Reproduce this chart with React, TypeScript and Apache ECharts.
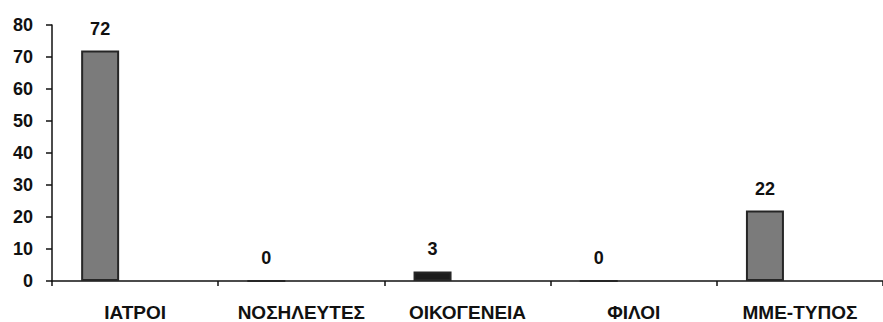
import React, { useEffect, useRef } from "react";
import * as echarts from "echarts";

const categories = ["ΙΑΤΡΟΙ", "ΝΟΣΗΛΕΥΤΕΣ", "ΟΙΚΟΓΕΝΕΙΑ", "ΦΙΛΟΙ", "ΜΜΕ-ΤΥΠΟΣ"];
const values = [72, 0, 3, 0, 22];
const yTicks = { min: 0, max: 80, interval: 10 };

const FONT = "'Liberation Sans', Arial, sans-serif";
const GRAY = "#7b7b7b";
const DARK = "#1c1c1c";

export default function App() {
  const ref = useRef<HTMLDivElement>(null);

  useEffect(() => {
    if (!ref.current) return;
    const chart = echarts.init(ref.current, null, { renderer: "svg" });
    chart.setOption({
      animation: false,
      backgroundColor: "#ffffff",
      grid: { left: 52, top: 25, width: 834, bottom: 39, containLabel: false },
      xAxis: {
        type: "category",
        data: categories,
        axisLine: { lineStyle: { color: "#111", width: 1.5 } },
        axisTick: {
          show: true,
          interval: 0,
          inside: false,
          length: 5,
          lineStyle: { color: "#111", width: 1.5 },
        },
        axisLabel: {
          interval: 0,
          hideOverlap: false,
          color: "#111",
          fontFamily: FONT,
          fontWeight: "bold",
          fontSize: 19,
          margin: 22,
        },
      },
      yAxis: {
        type: "value",
        min: yTicks.min,
        max: yTicks.max,
        interval: yTicks.interval,
        splitLine: { show: false },
        axisLine: { show: true, lineStyle: { color: "#111", width: 1.5 } },
        axisTick: { show: true, length: 6, lineStyle: { color: "#111", width: 1.5 } },
        axisLabel: {
          color: "#111",
          fontFamily: FONT,
          fontWeight: "bold",
          fontSize: 18,
          margin: 19,
        },
      },
      series: [
        {
          type: "bar",
          name: "Πηγές",
          barWidth: 38,
          barGap: "84%",
          data: values.map((v, i) => ({
            value: v,
            itemStyle: { color: i === 2 ? DARK : GRAY },
          })),
          itemStyle: { borderColor: "#262626", borderWidth: 2 },
          label: {
            show: true,
            position: "top",
            distance: 13,
            color: "#111",
            fontFamily: FONT,
            fontWeight: "bold",
            fontSize: 18,
          },
        },
        {
          // empty companion series: keeps each bar left of its category centre
          type: "bar",
          name: "",
          barWidth: 38,
          data: [],
        },
      ],
    });
    return () => chart.dispose();
  }, []);

  return (
    <div
      ref={ref}
      style={{ position: "fixed", left: 0, top: 0, width: 883, height: 322, background: "#fff" }}
    />
  );
}
